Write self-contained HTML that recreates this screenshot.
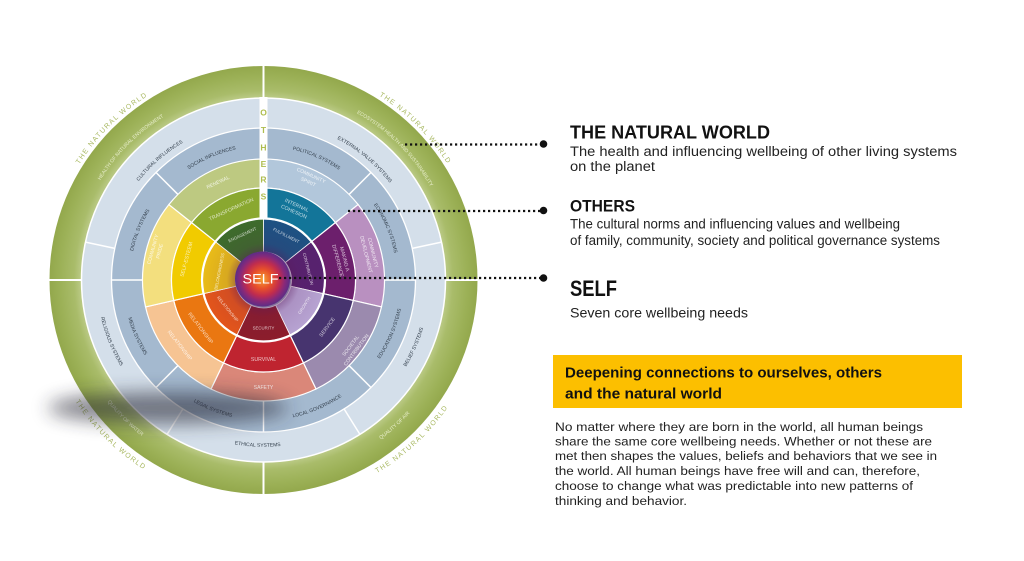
<!DOCTYPE html>
<html><head><meta charset="utf-8"><style>
html,body{margin:0;padding:0;background:#fff;}
svg{display:block;}
</style></head><body>
<svg width="1024" height="561" viewBox="0 0 1024 561" xmlns="http://www.w3.org/2000/svg" font-family="'Liberation Sans', Arial, sans-serif">
<defs>
 <radialGradient id="gr" gradientUnits="userSpaceOnUse" cx="0" cy="0" r="214">
   <stop offset="0.85" stop-color="#bccb88"/>
   <stop offset="0.885" stop-color="#a9bc6a"/>
   <stop offset="0.95" stop-color="#9cb157"/>
   <stop offset="1" stop-color="#93a84c"/>
 </radialGradient>
 <radialGradient id="selfg" cx="0.5" cy="0.5" r="0.5">
   <stop offset="0" stop-color="#f6a232"/>
   <stop offset="0.35" stop-color="#e8502a"/>
   <stop offset="0.62" stop-color="#c02c4e"/>
   <stop offset="0.82" stop-color="#87297a"/>
   <stop offset="1" stop-color="#5c2d86"/>
 </radialGradient>
 <radialGradient id="glow" gradientUnits="userSpaceOnUse" cx="0" cy="0" r="61">
   <stop offset="0.44" stop-color="#5a1a5a" stop-opacity="0.45"/>
   <stop offset="0.6" stop-color="#5a1a5a" stop-opacity="0.12"/>
   <stop offset="1" stop-color="#5a1a5a" stop-opacity="0"/>
 </radialGradient>
 <filter id="blur" x="-50%" y="-150%" width="200%" height="400%"><feGaussianBlur stdDeviation="9"/></filter>
 <path id="o218" d="M0,217.5A217.5,217.5 0 1 1 0,-217.5A217.5,217.5 0 1 1 0,217.5"/>
 <path id="i224" d="M0,-224A224,224 0 1 0 0,224A224,224 0 1 0 0,-224"/>
 <path id="o191" d="M0,191.2A191.2,191.2 0 1 1 0,-191.2A191.2,191.2 0 1 1 0,191.2"/>
 <path id="i198" d="M0,-197.8A197.8,197.8 0 1 0 0,197.8A197.8,197.8 0 1 0 0,-197.8"/>
 <path id="o159" d="M0,159.2A159.2,159.2 0 1 1 0,-159.2A159.2,159.2 0 1 1 0,159.2"/>
 <path id="i167" d="M0,-166.8A166.8,166.8 0 1 0 0,166.8A166.8,166.8 0 1 0 0,-166.8"/>
 <path id="o133" d="M0,133.5A133.5,133.5 0 1 1 0,-133.5A133.5,133.5 0 1 1 0,133.5"/>
 <path id="i140" d="M0,-140.5A140.5,140.5 0 1 0 0,140.5A140.5,140.5 0 1 0 0,-140.5"/>
</defs>

<g transform="translate(263.5,280)">
 <circle r="214" fill="url(#gr)"/>
 <circle r="182" fill="#d4dfea" stroke="#fff" stroke-width="1.5"/>
 <circle r="152" fill="#a4b9cf" stroke="#fff" stroke-width="1.3"/>

 <g stroke="#fff" stroke-width="1.2">
  <path d="M0,-121A121,121 0 0 1 94.60,-75.44L71.93,-57.36A92,92 0 0 0 0,-92Z" fill="#b2c7db"/>
  <path transform="rotate(51.4286)" d="M0,-121A121,121 0 0 1 94.60,-75.44L71.93,-57.36A92,92 0 0 0 0,-92Z" fill="#b990c0"/>
  <path transform="rotate(102.857)" d="M0,-121A121,121 0 0 1 94.60,-75.44L71.93,-57.36A92,92 0 0 0 0,-92Z" fill="#9b8aae"/>
  <path transform="rotate(154.286)" d="M0,-121A121,121 0 0 1 94.60,-75.44L71.93,-57.36A92,92 0 0 0 0,-92Z" fill="#da8779"/>
  <path transform="rotate(205.714)" d="M0,-121A121,121 0 0 1 94.60,-75.44L71.93,-57.36A92,92 0 0 0 0,-92Z" fill="#f6c493"/>
  <path transform="rotate(257.143)" d="M0,-121A121,121 0 0 1 94.60,-75.44L71.93,-57.36A92,92 0 0 0 0,-92Z" fill="#f3df7e"/>
  <path transform="rotate(308.571)" d="M0,-121A121,121 0 0 1 94.60,-75.44L71.93,-57.36A92,92 0 0 0 0,-92Z" fill="#bdc981"/>
  <path d="M0,-92A92,92 0 0 1 71.93,-57.36L47.69,-38.03A61,61 0 0 0 0,-61Z" fill="#137599"/>
  <path transform="rotate(51.4286)" d="M0,-92A92,92 0 0 1 71.93,-57.36L47.69,-38.03A61,61 0 0 0 0,-61Z" fill="#6c1f6c"/>
  <path transform="rotate(102.857)" d="M0,-92A92,92 0 0 1 71.93,-57.36L47.69,-38.03A61,61 0 0 0 0,-61Z" fill="#47346f"/>
  <path transform="rotate(154.286)" d="M0,-92A92,92 0 0 1 71.93,-57.36L47.69,-38.03A61,61 0 0 0 0,-61Z" fill="#bf2430"/>
  <path transform="rotate(205.714)" d="M0,-92A92,92 0 0 1 71.93,-57.36L47.69,-38.03A61,61 0 0 0 0,-61Z" fill="#ea7711"/>
  <path transform="rotate(257.143)" d="M0,-92A92,92 0 0 1 71.93,-57.36L47.69,-38.03A61,61 0 0 0 0,-61Z" fill="#f1cb00"/>
  <path transform="rotate(308.571)" d="M0,-92A92,92 0 0 1 71.93,-57.36L47.69,-38.03A61,61 0 0 0 0,-61Z" fill="#8aa830"/>
 </g>
 <g stroke="#fff" stroke-width="0.8">
  <path d="M0,-61A61,61 0 0 1 47.69,-38.03L21.89,-17.46A28,28 0 0 0 0,-28Z" fill="#1d5283"/>
  <path transform="rotate(51.4286)" d="M0,-61A61,61 0 0 1 47.69,-38.03L21.89,-17.46A28,28 0 0 0 0,-28Z" fill="#57226f"/>
  <path transform="rotate(102.857)" d="M0,-61A61,61 0 0 1 47.69,-38.03L21.89,-17.46A28,28 0 0 0 0,-28Z" fill="#b7a3d2"/>
  <path transform="rotate(154.286)" d="M0,-61A61,61 0 0 1 47.69,-38.03L21.89,-17.46A28,28 0 0 0 0,-28Z" fill="#8c1d2b"/>
  <path transform="rotate(205.714)" d="M0,-61A61,61 0 0 1 47.69,-38.03L21.89,-17.46A28,28 0 0 0 0,-28Z" fill="#e3551b"/>
  <path transform="rotate(257.143)" d="M0,-61A61,61 0 0 1 47.69,-38.03L21.89,-17.46A28,28 0 0 0 0,-28Z" fill="#e9bc18"/>
  <path transform="rotate(308.571)" d="M0,-61A61,61 0 0 1 47.69,-38.03L21.89,-17.46A28,28 0 0 0 0,-28Z" fill="#3d6c2b"/>
 </g>
 <circle r="61" fill="url(#glow)"/>
 <circle r="61.5" fill="none" stroke="#fff" stroke-width="2.2"/>

 <g stroke="#fff" stroke-width="2">
  <line x1="0" y1="-182" x2="0" y2="-215"/>
  <line x1="0" y1="-182" x2="0" y2="-215" transform="rotate(90)"/>
  <line x1="0" y1="-182" x2="0" y2="-215" transform="rotate(180)"/>
  <line x1="0" y1="-182" x2="0" y2="-215" transform="rotate(270)"/>
 </g>
 <g stroke="#fff" stroke-width="1.5">
  <line x1="0" y1="-152" x2="0" y2="-182" transform="rotate(78)"/>
  <line x1="0" y1="-152" x2="0" y2="-182" transform="rotate(148)"/>
  <line x1="0" y1="-152" x2="0" y2="-182" transform="rotate(212)"/>
  <line x1="0" y1="-152" x2="0" y2="-182" transform="rotate(282)"/>
  <line x1="0" y1="-121" x2="0" y2="-152" transform="rotate(45)"/>
  <line x1="0" y1="-121" x2="0" y2="-152" transform="rotate(90)"/>
  <line x1="0" y1="-121" x2="0" y2="-152" transform="rotate(135)"/>
  <line x1="0" y1="-121" x2="0" y2="-152" transform="rotate(180)"/>
  <line x1="0" y1="-121" x2="0" y2="-152" transform="rotate(225)"/>
  <line x1="0" y1="-121" x2="0" y2="-152" transform="rotate(270)"/>
  <line x1="0" y1="-121" x2="0" y2="-152" transform="rotate(315)"/>
 </g>
 <rect x="-4" y="-183" width="8" height="121" fill="#fff"/>

 <g font-size="7" fill="#a9b963" letter-spacing="1.3" text-anchor="middle">
  <text><textPath href="#o218" startOffset="37.5%">THE NATURAL WORLD</textPath></text>
  <text><textPath href="#o218" startOffset="62.5%">THE NATURAL WORLD</textPath></text>
  <text><textPath href="#i224" startOffset="61.94%">THE NATURAL WORLD</textPath></text>
  <text><textPath href="#i224" startOffset="37.6%">THE NATURAL WORLD</textPath></text>
 </g>
 <g font-size="5" fill="#e8eecb" text-anchor="middle">
  <text><textPath href="#o191" startOffset="37.5%">HEALTH OF NATURAL ENVIRONMENT</textPath></text>
  <text><textPath href="#o191" startOffset="62.5%">ECOSYSTEM HEALTH AND SUSTAINABILITY</textPath></text>
  <text><textPath href="#i198" startOffset="61.67%">QUALITY OF AIR</textPath></text>
  <text><textPath href="#i198" startOffset="37.5%">QUALITY OF WATER</textPath></text>
 </g>
 <g font-size="5" fill="#34404d" text-anchor="middle">
  <text><textPath href="#o159" startOffset="38.61%">CULTURAL INFLUENCES</textPath></text>
  <text><textPath href="#o159" startOffset="61.11%">EXTERNAL VALUE SYSTEMS</textPath></text>
  <text><textPath href="#i167" startOffset="68.33%">BELIEF SYSTEMS</textPath></text>
  <text><textPath href="#i167" startOffset="49.44%">ETHICAL SYSTEMS</textPath></text>
  <text><textPath href="#i167" startOffset="31.11%">RELIGIOUS SYSTEMS</textPath></text>
  <text><textPath href="#o133" startOffset="56.53%">POLITICAL SYSTEMS</textPath></text>
  <text><textPath href="#o133" startOffset="68.61%">ECONOMIC SYSTEMS</textPath></text>
  <text><textPath href="#o133" startOffset="31.11%">DIGITAL SYSTEMS</textPath></text>
  <text><textPath href="#o133" startOffset="43.61%">SOCIAL INFLUENCES</textPath></text>
  <text><textPath href="#i140" startOffset="68.61%">EDUCATION SYSTEMS</textPath></text>
  <text><textPath href="#i140" startOffset="56.39%">LOCAL GOVERNANCE</textPath></text>
  <text><textPath href="#i140" startOffset="44.03%">LEGAL SYSTEMS</textPath></text>
  <text><textPath href="#i140" startOffset="31.67%">MEDIA SYSTEMS</textPath></text>
 </g>

 <g font-size="5" fill="#ffffff" fill-opacity="0.8" text-anchor="middle">
  <text transform="rotate(335) translate(0,-108)" dy="0.35em">RENEWAL</text>
  <text transform="rotate(24.5) translate(0,-115)" dy="0.35em">COMMUNITY</text>
  <text transform="rotate(24.5) translate(0,-108)" dy="0.35em">SPIRIT</text>
  <text transform="rotate(76) translate(0,-113)" dy="0.35em">COMMUNITY</text>
  <text transform="rotate(76) translate(0,-106)" dy="0.35em">DEVELOPMENT</text>
  <text transform="rotate(-53) translate(0,109)" dy="0.35em">SOCIETAL</text>
  <text transform="rotate(-53) translate(0,116)" dy="0.35em">CONTRIBUTION</text>
  <text transform="translate(0,107)" dy="0.35em">SAFETY</text>
  <text transform="rotate(52) translate(0,106)" dy="0.35em">RELATIONSHIP</text>
  <text transform="rotate(285.5) translate(0,-115)" dy="0.35em">COMMUNITY</text>
  <text transform="rotate(285.5) translate(0,-108)" dy="0.35em">PRIDE</text>
 </g>
 <g font-size="5.2" fill="#ffffff" fill-opacity="0.72" text-anchor="middle">
  <text transform="rotate(335.5) translate(0,-78)" dy="0.35em">TRANSFORMATION</text>
  <text transform="rotate(24) translate(0,-82)" dy="0.35em">INTERNAL</text>
  <text transform="rotate(24) translate(0,-75)" dy="0.35em">COHESION</text>
  <text transform="rotate(75.5) translate(0,-84)" dy="0.35em">MAKING A</text>
  <text transform="rotate(75.5) translate(0,-77)" dy="0.35em">DIFFERENCE</text>
  <text transform="rotate(-53.5) translate(0,79)" dy="0.35em">SERVICE</text>
  <text transform="translate(0,79)" dy="0.35em">SURVIVAL</text>
  <text transform="rotate(52.6) translate(0,79)" dy="0.35em">RELATIONSHIP</text>
  <text transform="rotate(285) translate(0,-80)" dy="0.35em">SELF-ESTEEM</text>
 </g>
 <g font-size="4.3" fill="#ffffff" fill-opacity="0.75" text-anchor="middle">
  <text transform="rotate(335) translate(0,-50)" dy="0.35em">ENGAGEMENT</text>
  <text transform="rotate(27) translate(0,-50)" dy="0.35em">FULFILLMENT</text>
  <text transform="rotate(76) translate(0,-46)" dy="0.35em">CONTRIBUTION</text>
  <text transform="rotate(-58) translate(0,48)" dy="0.35em">GROWTH</text>
  <text transform="translate(0,48)" dy="0.35em">SECURITY</text>
  <text transform="rotate(51) translate(0,46)" dy="0.35em">RELATIONSHIP</text>
  <text transform="rotate(281) translate(0,-45)" dy="0.35em">BELONGINGNESS</text>
 </g>
</g>

<g font-size="8.5" fill="#aebd4e" text-anchor="middle" font-weight="bold">
 <text x="263.5" y="115.7">O</text>
 <text x="263.5" y="133">T</text>
 <text x="263.5" y="150.3">H</text>
 <text x="263.5" y="167">E</text>
 <text x="263.5" y="182.3">R</text>
 <text x="263.5" y="199.7">S</text>
</g>

<circle cx="262.5" cy="279" r="27.5" fill="url(#selfg)"/>
<text x="260.5" y="283.5" font-size="14" fill="#fff" text-anchor="middle" textLength="36" lengthAdjust="spacingAndGlyphs">SELF</text>

<ellipse cx="168" cy="408" rx="120" ry="16" fill="#2a2a38" opacity="0.58" filter="url(#blur)"/>

<g stroke="#111" stroke-width="2.3" stroke-dasharray="2.2 2.8" fill="none">
 <line x1="405" y1="144.5" x2="540" y2="144.5"/>
 <line x1="348" y1="211" x2="540" y2="211"/>
 <line x1="279" y1="278" x2="540" y2="278"/>
</g>
<g fill="#111">
 <circle cx="543.5" cy="144" r="3.8"/>
 <circle cx="543.5" cy="210.5" r="3.8"/>
 <circle cx="543.5" cy="278" r="3.8"/>
</g>

<g fill="#111">
 <text x="570" y="138.5" font-size="18" font-weight="bold" textLength="200" lengthAdjust="spacingAndGlyphs">THE NATURAL WORLD</text>
 <text x="570" y="156" font-size="13.5" fill="#222" textLength="387" lengthAdjust="spacingAndGlyphs">The health and influencing wellbeing of other living systems</text>
 <text x="570" y="171" font-size="13.5" fill="#222" textLength="85" lengthAdjust="spacingAndGlyphs">on the planet</text>
 <text x="570" y="211.5" font-size="16.5" font-weight="bold" textLength="65" lengthAdjust="spacingAndGlyphs">OTHERS</text>
 <text x="570" y="228.5" font-size="13.5" fill="#222" textLength="330" lengthAdjust="spacingAndGlyphs">The cultural norms and influencing values and wellbeing</text>
 <text x="570" y="245" font-size="13.5" fill="#222" textLength="370" lengthAdjust="spacingAndGlyphs">of family, community, society and political governance systems</text>
 <text x="570" y="296" font-size="22" font-weight="bold" textLength="47" lengthAdjust="spacingAndGlyphs">SELF</text>
 <text x="570" y="317.5" font-size="13.5" fill="#222" textLength="178" lengthAdjust="spacingAndGlyphs">Seven core wellbeing needs</text>
</g>

<rect x="553" y="355" width="409" height="53" fill="#fcbf00"/>
<g fill="#111" font-weight="bold" font-size="14.5">
 <text x="565" y="377.5" textLength="317" lengthAdjust="spacingAndGlyphs">Deepening connections to ourselves, others</text>
 <text x="565" y="398.5" textLength="157" lengthAdjust="spacingAndGlyphs">and the natural world</text>
</g>
<g fill="#222" font-size="12.2">
 <text x="555" y="431" textLength="368" lengthAdjust="spacingAndGlyphs">No matter where they are born in the world, all human beings</text>
 <text x="555" y="445.5" textLength="377" lengthAdjust="spacingAndGlyphs">share the same core wellbeing needs. Whether or not these are</text>
 <text x="555" y="460" textLength="382" lengthAdjust="spacingAndGlyphs">met then shapes the values, beliefs and behaviors that we see in</text>
 <text x="555" y="475" textLength="365" lengthAdjust="spacingAndGlyphs">the world. All human beings have free will and can, therefore,</text>
 <text x="555" y="490" textLength="358" lengthAdjust="spacingAndGlyphs">choose to change what was predictable into new patterns of</text>
 <text x="555" y="505" textLength="132" lengthAdjust="spacingAndGlyphs">thinking and behavior.</text>
</g>
</svg>
</body></html>
